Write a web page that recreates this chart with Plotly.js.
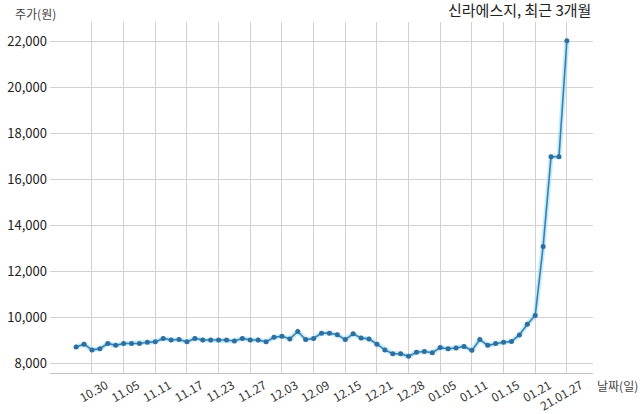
<!DOCTYPE html>
<html>
<head>
<meta charset="utf-8">
<script src="https://cdn.plot.ly/plotly-3.0.1.min.js"></script>
<style>html,body{margin:0;padding:0;background:#fff;}#chart{width:640px;height:414px;}</style>
</head>
<body>
<div id="chart"></div>
<script>
const dates = ["10.28","10.29","10.30","11.02","11.03","11.04","11.05","11.06","11.09","11.10",
  "11.11","11.12","11.13","11.16","11.17","11.18","11.19","11.20","11.23","11.24",
  "11.25","11.26","11.27","11.30","12.01","12.02","12.03","12.04","12.07","12.08",
  "12.09","12.10","12.11","12.14","12.15","12.16","12.17","12.18","12.21","12.22",
  "12.23","12.24","12.28","12.29","12.30","01.04","01.05","01.06","01.07","01.08",
  "01.11","01.12","01.13","01.14","01.15","01.18","01.19","01.20","01.21","01.22",
  "01.25","01.26","01.27"];
const prices = [8730,8850,8600,8650,8880,8800,8880,8880,8880,8930,
  8950,9100,9030,9050,8950,9100,9030,9030,9030,9030,
  8990,9100,9030,9030,8950,9150,9190,9080,9400,9050,
  9100,9330,9330,9260,9050,9300,9120,9080,8850,8600,
  8430,8430,8320,8500,8530,8480,8700,8650,8680,8750,
  8580,9050,8800,8880,8930,8970,9250,9720,10100,13100,
  17000,17000,22050];
const tickDates = ["10.30","11.05","11.11","11.17","11.23","11.27","12.03","12.09","12.15","12.21","12.28","01.05","01.11","01.15","01.21","01.27"];
const tickLabels = ["10.30","11.05","11.11","11.17","11.23","11.27","12.03","12.09","12.15","12.21","12.28","01.05","01.11","01.15","01.21","21.01.27"];
const yTicks = [8000,10000,12000,14000,16000,18000,20000,22000];

const FONT = "'Noto Sans CJK KR', 'Noto Sans', sans-serif";

const traces = [
  {x: dates, y: prices, type: "scatter", mode: "lines", hoverinfo: "skip",
   line: {color: "rgba(150,220,245,0.55)", width: 5}},
  {x: dates, y: prices, type: "scatter", mode: "lines+markers",
   line: {color: "#3b7fb1", width: 1.6},
   marker: {color: "#2f6e9e", size: 5}}
];

const layout = {
  width: 640, height: 414,
  margin: {l: 50, r: 47, t: 22, b: 41},
  paper_bgcolor: "#fff", plot_bgcolor: "#fff",
  showlegend: false,
  font: {family: FONT, color: "#333"},
  xaxis: {
    type: "category", categoryorder: "array", categoryarray: dates,
    range: [-3.3, 65.3],
    tickmode: "array", tickvals: tickDates, ticktext: tickLabels,
    tickangle: -30, ticks: "", ticklabelshift: 14, ticklabelstandoff: 0,
    tickfont: {size: 12, color: "#333", family: FONT},
    showgrid: true, gridcolor: "#d2d2d2", gridwidth: 1,
    showline: true, linecolor: "#c4c4c4", linewidth: 1,
    zeroline: false, fixedrange: true
  },
  yaxis: {
    range: [7596, 22860],
    tickmode: "array", tickvals: yTicks,
    tickformat: ",d", ticks: "", ticklabelstandoff: 2,
    tickfont: {size: 13, color: "#222", family: FONT},
    showgrid: true, gridcolor: "#d2d2d2", gridwidth: 1,
    showline: false, zeroline: false, fixedrange: true
  },
  annotations: [
    {text: "신라에스지, 최근 3개월", xref: "paper", yref: "paper", x: 1, y: 1, xanchor: "right", yanchor: "bottom", yshift: 0,
     showarrow: false, font: {size: 15, color: "#222", family: FONT}},
    {text: "주가(원)", xref: "paper", yref: "paper", x: 0, y: 1, xanchor: "left", yanchor: "bottom", xshift: -37, yshift: -2,
     showarrow: false, font: {size: 12, color: "#444", family: FONT}},
    {text: "날짜(일)", xref: "paper", yref: "paper", x: 1, y: 0, xanchor: "left", yanchor: "top", xshift: 2, yshift: -2,
     showarrow: false, font: {size: 12, color: "#444", family: FONT}}
  ]
};

Plotly.newPlot("chart", traces, layout, {displayModeBar: false, staticPlot: true});
</script>
</body>
</html>
